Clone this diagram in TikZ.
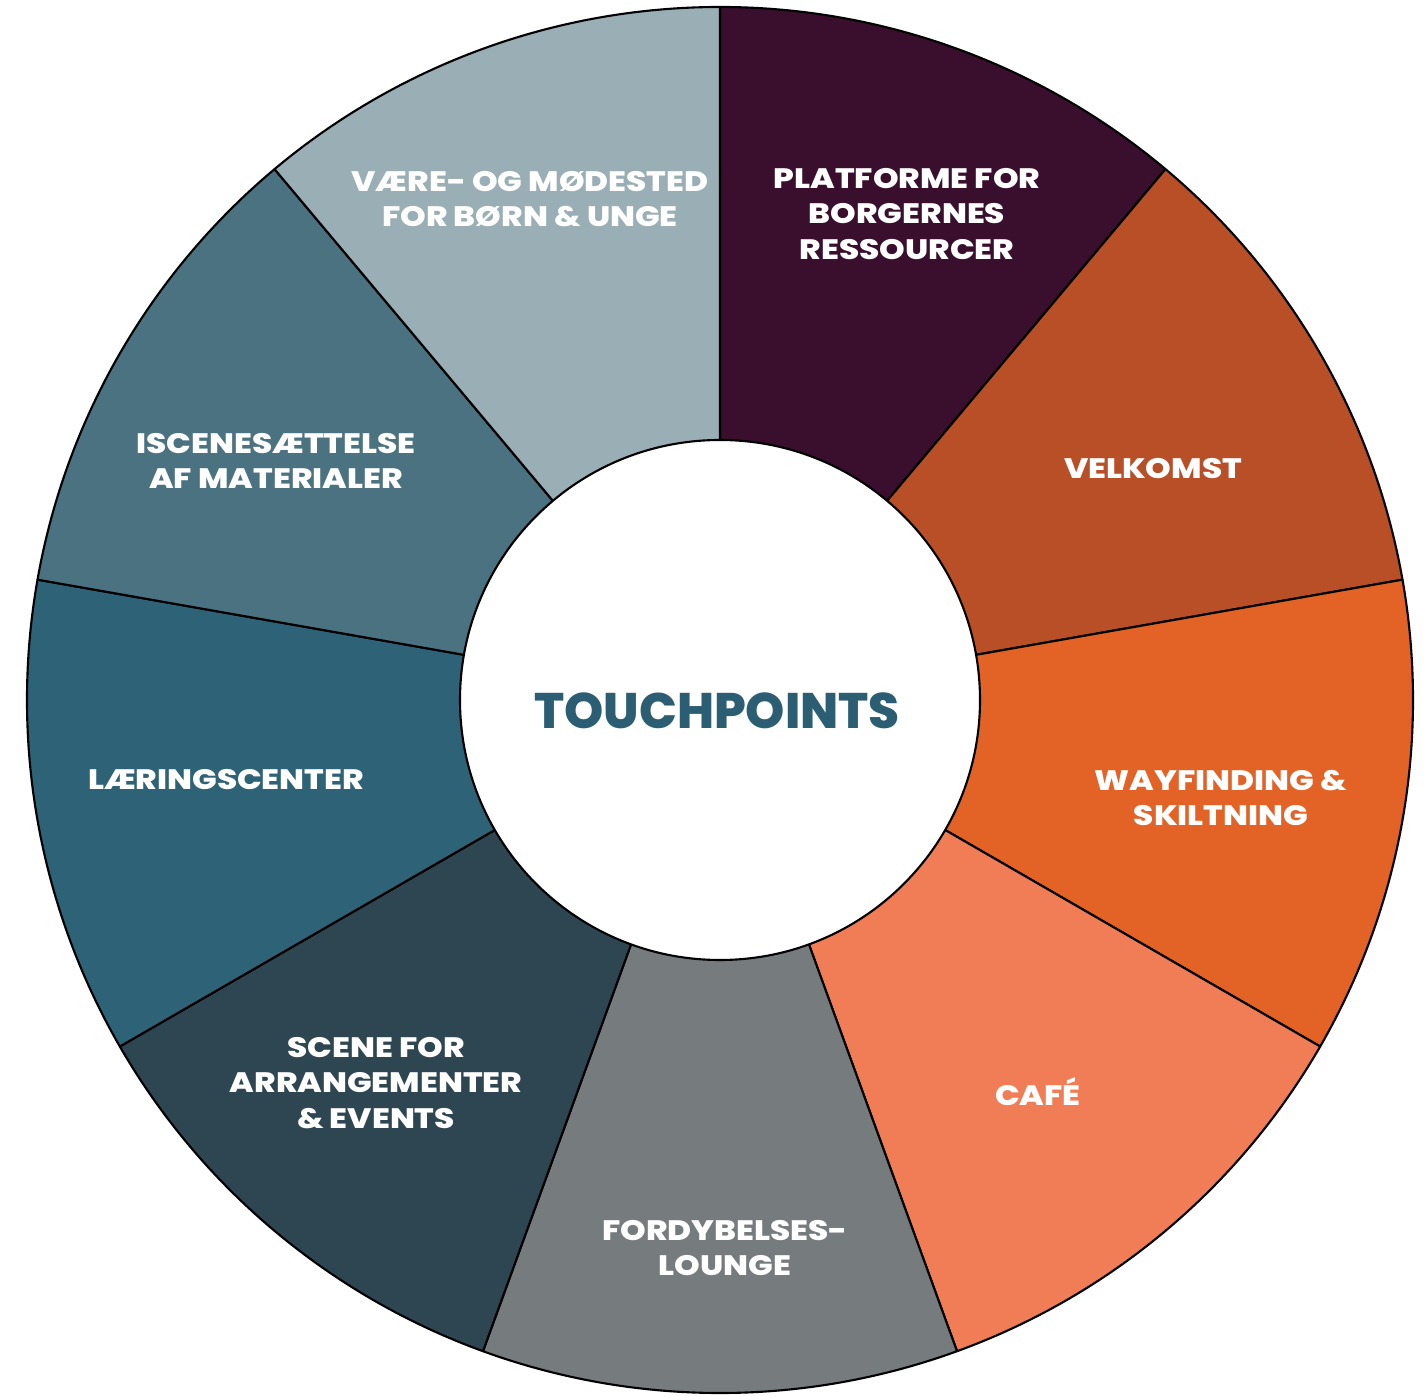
\documentclass[tikz,border=0pt]{standalone}
\usepackage{fontspec}
\setmainfont{Poppins}
\newfontfamily\heavyfont{Poppins ExtraBold}[FakeStretch=1.16]
\newfontfamily\titlefont{Poppins ExtraBold}
\definecolor{platc}{HTML}{3A0F2E}
\definecolor{velkc}{HTML}{B84F27}
\definecolor{wayc}{HTML}{E36226}
\definecolor{cafec}{HTML}{F07D55}
\definecolor{fordc}{HTML}{767B7E}
\definecolor{scenec}{HTML}{2E4651}
\definecolor{laerc}{HTML}{2E6277}
\definecolor{iscc}{HTML}{4B7280}
\definecolor{vaerec}{HTML}{9AAFB5}
\definecolor{touchc}{HTML}{2B5E72}
\tikzset{
  wedge/.style={draw=black, line width=0.6pt, line join=round},
  seglabel/.style={text=white, font=\fontsize{8}{10}\heavyfont, align=center, inner sep=0pt},
}
\begin{document}
\begin{tikzpicture}
\useasboundingbox (-7.20,-6.95) rectangle (7.04,7.00);
% ring of touchpoints, 40 degrees each
\filldraw[wedge, fill=platc] (0,0) -- (90:6.93) arc[start angle=90, end angle=50, radius=6.93] -- cycle;
\filldraw[wedge, fill=velkc] (0,0) -- (50:6.93) arc[start angle=50, end angle=10, radius=6.93] -- cycle;
\filldraw[wedge, fill=wayc] (0,0) -- (10:6.93) arc[start angle=10, end angle=-30, radius=6.93] -- cycle;
\filldraw[wedge, fill=cafec] (0,0) -- (-30:6.93) arc[start angle=-30, end angle=-70, radius=6.93] -- cycle;
\filldraw[wedge, fill=fordc] (0,0) -- (-70:6.93) arc[start angle=-70, end angle=-110, radius=6.93] -- cycle;
\filldraw[wedge, fill=scenec] (0,0) -- (-110:6.93) arc[start angle=-110, end angle=-150, radius=6.93] -- cycle;
\filldraw[wedge, fill=laerc] (0,0) -- (-150:6.93) arc[start angle=-150, end angle=-190, radius=6.93] -- cycle;
\filldraw[wedge, fill=iscc] (0,0) -- (170:6.93) arc[start angle=170, end angle=130, radius=6.93] -- cycle;
\filldraw[wedge, fill=vaerec] (0,0) -- (130:6.93) arc[start angle=130, end angle=90, radius=6.93] -- cycle;
\filldraw[wedge, fill=white] (0,0) circle (2.60);
% labels
\node[seglabel] (plat) at (1.87,4.86) {PLATFORME FOR\\BORGERNES\\RESSOURCER};
\node[seglabel] (velk) at (4.33,2.31) {VELKOMST};
\node[seglabel] (way) at (5.01,-0.98) {WAYFINDING \&\\SKILTNING};
\node[seglabel] (cafe) at (3.18,-3.92) {CAFÉ};
\node[seglabel] (ford) at (0.05,-5.48) {FORDYBELSES-\\LOUNGE};
\node[seglabel] (scene) at (-3.44,-3.83) {SCENE FOR\\ARRANGEMENTER\\\& EVENTS};
\node[seglabel] (laer) at (-4.94,-0.80) {LÆRINGSCENTER};
\node[seglabel] (isc) at (-4.44,2.39) {ISCENESÆTTELSE\\AF MATERIALER};
\node[seglabel] (vaere) at (-1.90,5.01) {VÆRE- OG MØDESTED\\FOR BØRN \& UNGE};
\node[text=touchc, font=\fontsize{14.2}{16}\titlefont, inner sep=0pt] (touch) at (-0.03,-0.11) {TOUCHPOINTS};
\end{tikzpicture}
\end{document}
